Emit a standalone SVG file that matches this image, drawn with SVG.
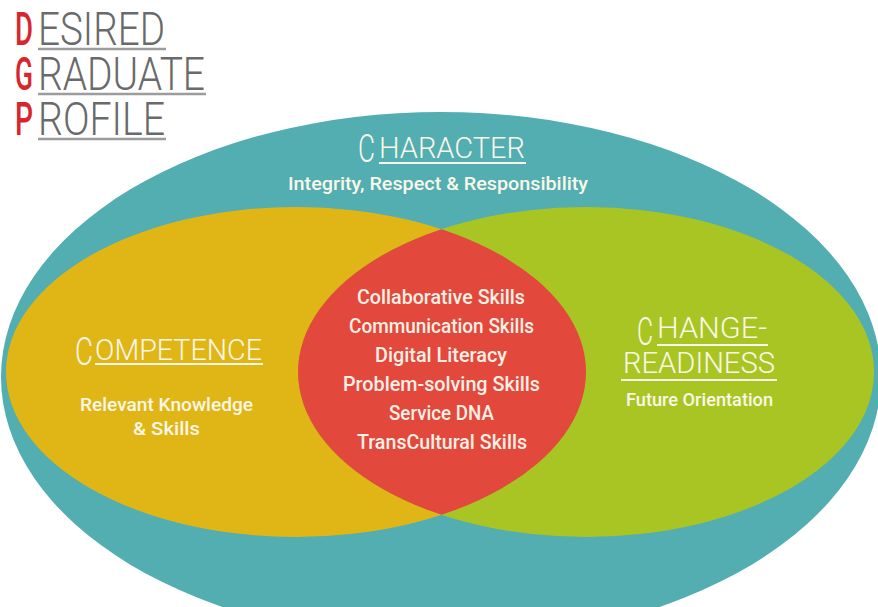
<svg xmlns="http://www.w3.org/2000/svg" width="878" height="607" viewBox="0 0 878 607">
  <style>
    text { font-family: Roboto, "Liberation Sans", sans-serif; }
    .t-red { fill: #d8262f; font-weight: 500; font-size: 46px; }
    .t-gray { fill: #6a6a6a; font-weight: 300; font-size: 46px; }
    .t-rule { stroke: #9c9c9c; stroke-width: 2.5; }
    .head { fill: #fbf7e8; font-weight: 300; font-size: 29px; }
    .cap { fill: #fbf7e8; font-weight: 300; font-size: 38px; }
    .rule { stroke: #fbf7e8; stroke-width: 2; }
    .sub { fill: #fbf7e8; font-weight: 500; font-size: 18px; }
    .core { fill: #fbf0e6; font-weight: 500; font-size: 19.5px; }
  </style>
  <defs>
    <clipPath id="leftOval">
      <ellipse cx="296" cy="372" rx="290" ry="165"/>
    </clipPath>
  </defs>

  <rect width="878" height="607" fill="#ffffff"/>

  <!-- Heading: Desired Graduate Profile (narrowed glyphs via horizontal scale) -->
  <g id="title">
    <text class="t-red" transform="translate(15,45) scale(0.62,1)" textLength="29" lengthAdjust="spacingAndGlyphs">D</text>
    <text class="t-gray" transform="translate(38,45) scale(0.85,1)" textLength="149.4" lengthAdjust="spacingAndGlyphs">ESIRED</text>
    <line class="t-rule" x1="38" y1="49" x2="166" y2="49"/>
    <text class="t-red" transform="translate(15,90) scale(0.62,1)" textLength="29" lengthAdjust="spacingAndGlyphs">G</text>
    <text class="t-gray" transform="translate(38,90) scale(0.85,1)" textLength="196.5" lengthAdjust="spacingAndGlyphs">RADUATE</text>
    <line class="t-rule" x1="38" y1="94" x2="206" y2="94"/>
    <text class="t-red" transform="translate(15,135) scale(0.62,1)" textLength="29" lengthAdjust="spacingAndGlyphs">P</text>
    <text class="t-gray" transform="translate(38,135) scale(0.85,1)" textLength="149.4" lengthAdjust="spacingAndGlyphs">ROFILE</text>
    <line class="t-rule" x1="38" y1="139" x2="166" y2="139"/>
  </g>

  <!-- Outer oval: Character -->
  <g id="character">
    <ellipse cx="441" cy="377" rx="440" ry="265" fill="#52aeb1"/>
    <text class="cap" transform="translate(358,162) scale(0.7,1)" textLength="24.3" lengthAdjust="spacingAndGlyphs">C</text>
    <text class="head" x="379" y="158" textLength="146" lengthAdjust="spacingAndGlyphs">HARACTER</text>
    <line class="rule" x1="379" y1="163" x2="526" y2="163"/>
    <text class="sub" x="288" y="190" textLength="300" lengthAdjust="spacingAndGlyphs">Integrity, Respect &amp; Responsibility</text>
  </g>

  <!-- Left oval: Competence -->
  <g id="competence">
    <ellipse cx="296" cy="372" rx="290" ry="165" fill="#e0b616"/>
    <text class="cap" transform="translate(75,365) scale(0.7,1)" textLength="25.7" lengthAdjust="spacingAndGlyphs">C</text>
    <text class="head" x="95" y="360" textLength="167" lengthAdjust="spacingAndGlyphs">OMPETENCE</text>
    <line class="rule" x1="95" y1="364" x2="263" y2="364"/>
    <text class="sub" x="80" y="411" textLength="173" lengthAdjust="spacingAndGlyphs">Relevant Knowledge</text>
    <text class="sub" x="133" y="435" textLength="67" lengthAdjust="spacingAndGlyphs">&amp; Skills</text>
  </g>

  <!-- Right oval: Change-Readiness -->
  <g id="change-readiness">
    <ellipse cx="586" cy="372" rx="288" ry="165" fill="#a9c523"/>
    <text class="cap" transform="translate(637,345) scale(0.7,1)" textLength="22.9" lengthAdjust="spacingAndGlyphs">C</text>
    <text class="head" x="657" y="338" textLength="110" lengthAdjust="spacingAndGlyphs">HANGE-</text>
    <line class="rule" x1="657" y1="345" x2="768" y2="345"/>
    <text class="head" x="623" y="373" textLength="152" lengthAdjust="spacingAndGlyphs">READINESS</text>
    <line class="rule" x1="621" y1="380" x2="777" y2="380"/>
    <text class="sub" x="626" y="406" textLength="147" lengthAdjust="spacingAndGlyphs">Future Orientation</text>
  </g>

  <!-- Overlap of the two ovals: shared skills -->
  <g id="core-skills">
    <ellipse cx="586" cy="372" rx="288" ry="165" fill="#e2483b" clip-path="url(#leftOval)"/>
    <text class="core" x="357" y="304" textLength="168" lengthAdjust="spacingAndGlyphs">Collaborative Skills</text>
    <text class="core" x="349" y="333" textLength="185" lengthAdjust="spacingAndGlyphs">Communication Skills</text>
    <text class="core" x="375" y="362" textLength="132" lengthAdjust="spacingAndGlyphs">Digital Literacy</text>
    <text class="core" x="343" y="391" textLength="197" lengthAdjust="spacingAndGlyphs">Problem-solving Skills</text>
    <text class="core" x="389" y="420" textLength="105" lengthAdjust="spacingAndGlyphs">Service DNA</text>
    <text class="core" x="357" y="449" textLength="170" lengthAdjust="spacingAndGlyphs">TransCultural Skills</text>
  </g>
</svg>
